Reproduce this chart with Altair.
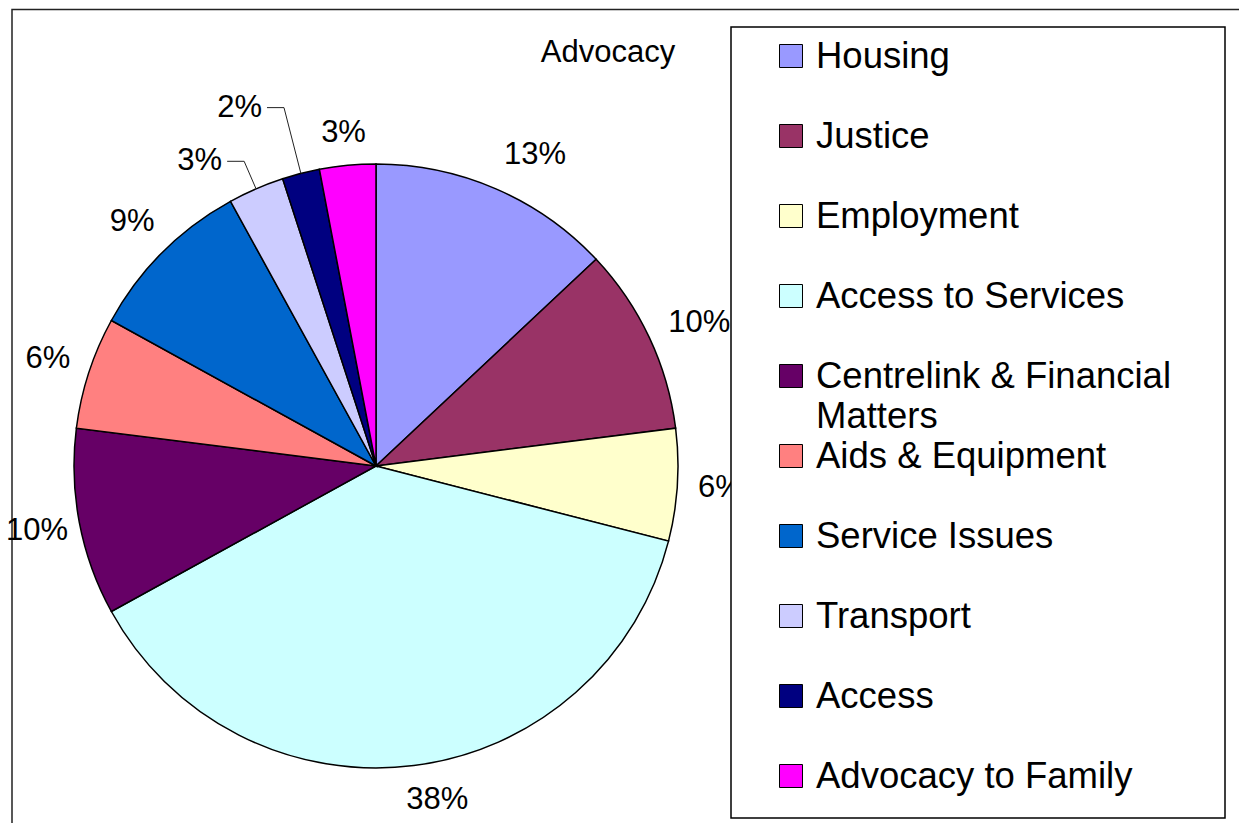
import altair as alt
import pandas as pd

categories = ["Housing", "Justice", "Employment", "Access to Services",
              "Centrelink & Financial Matters", "Aids & Equipment",
              "Service Issues", "Transport", "Access", "Advocacy to Family"]
values = [13, 10, 6, 38, 10, 6, 9, 3, 2, 3]
colors = ["#9999FF", "#993366", "#FFFFCC", "#CCFFFF", "#660066",
          "#FF8080", "#0066CC", "#CCCCFF", "#000080", "#FF00FF"]
title_text = "Advocacy"

df = pd.DataFrame({"category": categories, "value": values,
                   "idx": list(range(len(categories)))})
total = sum(values)

CX, CY, R = 376, 466, 302
FONT = "Liberation Sans"
LBL = 31

theta_scale = alt.Scale(domain=[0, total])
color_scale = alt.Scale(domain=categories, range=colors)
row_scale = alt.Scale(type="point", domain=categories, range=[56, 776], padding=0)

base = alt.Chart(df).transform_window(
    cum="sum(value)", sort=[alt.SortField("idx")], frame=[None, 0]
).transform_calculate(
    start="datum.cum - datum.value",
    end="datum.cum",
    mid="datum.cum - datum.value / 2",
    pct="format(datum.value / %d, '.0%%')" % total,
)

one = pd.DataFrame({"k": [0]})

frame = alt.Chart(one).mark_rect(fillOpacity=0, stroke="#222", strokeWidth=1.5).encode(
    x=alt.value(12), x2=alt.value(1260), y=alt.value(9.5), y2=alt.value(860))

pie = base.mark_arc(radius=R, stroke="black", strokeWidth=1.5).encode(
    theta=alt.Theta("start:Q", scale=theta_scale, stack=None),
    theta2="end:Q",
    color=alt.Color("category:N", scale=color_scale, legend=None),
    x=alt.value(CX), y=alt.value(CY),
)


def pie_labels(cats, dx=0, dy=0, radius=345):
    return base.transform_filter(
        alt.FieldOneOfPredicate(field="category", oneOf=cats)
    ).mark_text(radius=radius, dx=dx, dy=dy, fontSize=LBL, font=FONT,
                align="center", baseline="middle", color="black").encode(
        theta=alt.Theta("mid:Q", scale=theta_scale, stack=None),
        text="pct:N",
        x=alt.value(CX), y=alt.value(CY),
    )


lab_general = pie_labels(["Employment", "Centrelink & Financial Matters",
                          "Aids & Equipment", "Service Issues"])
lab_housing = pie_labels(["Housing"], dx=22, dy=6)
lab_justice = pie_labels(["Justice"], dx=11, dy=4)
lab_access_serv = pie_labels(["Access to Services"], dx=18, dy=-8)
lab_family = pie_labels(["Advocacy to Family"], dy=10)

leader = base.transform_filter(
    alt.FieldOneOfPredicate(field="category", oneOf=["Transport", "Access"])
).transform_calculate(
    a="2 * PI * datum.mid / %d" % total,
).transform_calculate(
    kr="datum.category == 'Access' ? 370 : 332",
).transform_calculate(
    ex="%d + %d * sin(datum.a)" % (CX, R),
    ey="%d - %d * cos(datum.a)" % (CY, R),
    kx="%d + datum.kr * sin(datum.a)" % CX,
    ky="%d - datum.kr * cos(datum.a)" % CY,
).transform_calculate(
    hx="datum.kx - 17",
    tx="datum.kx - 22",
)

lead1 = leader.mark_rule(color="#222", strokeWidth=1).encode(
    x=alt.X("ex:Q", scale=None, axis=None),
    y=alt.Y("ey:Q", scale=None, axis=None),
    x2="kx:Q", y2="ky:Q")
lead2 = leader.mark_rule(color="#222", strokeWidth=1).encode(
    x=alt.X("kx:Q", scale=None, axis=None),
    y=alt.Y("ky:Q", scale=None, axis=None),
    x2="hx:Q")
lead_text = leader.mark_text(align="right", baseline="middle", fontSize=LBL,
                             font=FONT, color="black").encode(
    x=alt.X("tx:Q", scale=None, axis=None),
    y=alt.Y("ky:Q", scale=None, axis=None),
    text="pct:N")

legend_box = alt.Chart(one).mark_rect(fill="white", stroke="black", strokeWidth=1.5).encode(
    x=alt.value(731), x2=alt.value(1225), y=alt.value(27), y2=alt.value(818))

legend_sym = alt.Chart(df).mark_square(size=23 * 23, stroke="black", strokeWidth=1,
                                       opacity=1).encode(
    x=alt.value(791),
    y=alt.Y("category:N", scale=row_scale, axis=None),
    color=alt.Color("category:N", scale=color_scale, legend=None),
)

legend_txt = alt.Chart(df).transform_calculate(
    disp="replace(datum.category, 'Financial Matters', 'Financial\\nMatters')"
).mark_text(align="left", baseline="alphabetic", dy=12, fontSize=36.5, font=FONT,
            lineBreak="\n", lineHeight=40, color="black").encode(
    x=alt.value(816),
    y=alt.Y("category:N", scale=row_scale, axis=None),
    text="disp:N",
)

title = alt.Chart(pd.DataFrame({"t": [title_text]})).mark_text(
    fontSize=31, font=FONT, align="center", baseline="middle", color="black").encode(
    x=alt.value(608), y=alt.value(53), text="t:N")

chart = alt.layer(
    frame, pie, lab_general, lab_housing, lab_justice, lab_access_serv, lab_family,
    lead1, lead2, lead_text, legend_box, legend_sym, legend_txt, title
).resolve_scale(x="independent", y="independent").properties(
    width=1239, height=823, padding=0, autosize="none", background="white"
).configure_view(stroke=None)

chart.save("out.html", embed_options={"renderer": "svg", "actions": False})
